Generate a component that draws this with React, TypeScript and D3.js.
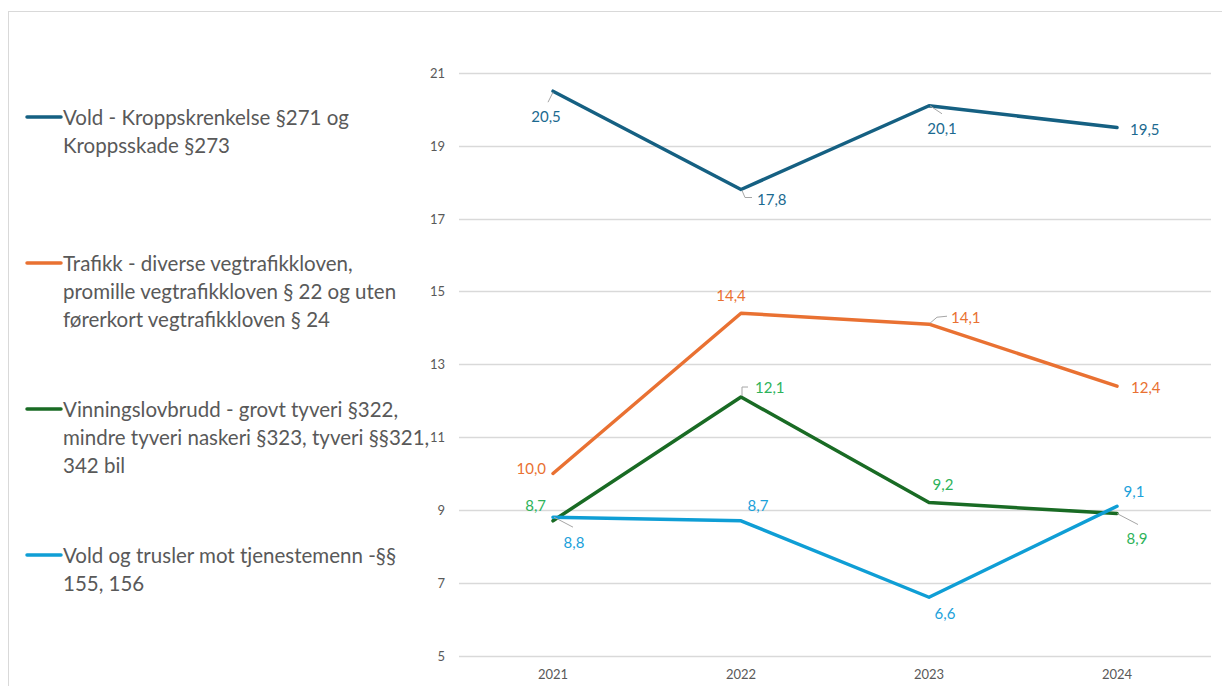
import React from "react";
import * as d3 from "d3";

// categories and values
const years = ["2021", "2022", "2023", "2024"];
const yTicks = [5, 7, 9, 11, 13, 15, 17, 19, 21];

const voldValues = [20.5, 17.8, 20.1, 19.5];
const trafikkValues = [10.0, 14.4, 14.1, 12.4];
const vinningValues = [8.7, 12.1, 9.2, 8.9];
const tjenesteValues = [8.8, 8.7, 6.6, 9.1];

const voldName = ["Vold - Kroppskrenkelse §271 og", "Kroppsskade §273"];
const trafikkName = [
  "Trafikk - diverse vegtrafikkloven,",
  "promille vegtrafikkloven § 22 og uten",
  "førerkort vegtrafikkloven § 24",
];
const vinningName = [
  "Vinningslovbrudd - grovt tyveri §322,",
  "mindre tyveri naskeri §323, tyveri §§321,",
  "342 bil",
];
const tjenesteName = ["Vold og trusler mot tjenestemenn -§§", "155, 156"];

// label placement, per point: [dx, dy, anchor, leader]
type Lab = [number, number, string, number[][] | null];

const series = [
  {
    name: voldName,
    values: voldValues,
    color: "#156082",
    labelColor: "#1B6A90",
    legendY: 117,
    labels: [
      [-7, 25, "middle", [[0, 1], [-5, 11]]],
      [16, 9, "start", [[1, 1], [4, 8], [11, 8]]],
      [13, 22, "middle", [[1, 0], [13, 8]]],
      [13, 1, "start", null],
    ] as Lab[],
  },
  {
    name: trafikkName,
    values: trafikkValues,
    color: "#E97132",
    labelColor: "#E97132",
    legendY: 263,
    labels: [
      [-7, -5, "end", null],
      [-10, -18, "middle", null],
      [22, -7, "start", [[1, -1], [8, -7], [18, -8]]],
      [14, 1, "start", null],
    ] as Lab[],
  },
  {
    name: vinningName,
    values: vinningValues,
    color: "#196B24",
    labelColor: "#2EB35A",
    legendY: 409,
    labels: [
      [-7, -16, "end", null],
      [14, -10, "start", [[1, -1], [1, -10], [7, -10]]],
      [14, -19, "middle", null],
      [20, 24, "middle", [[0, 0], [21, 11]]],
    ] as Lab[],
  },
  {
    name: tjenesteName,
    values: tjenesteValues,
    color: "#0F9ED5",
    labelColor: "#1BA1DA",
    legendY: 555,
    labels: [
      [21, 25, "middle", [[1, 0], [20, 10]]],
      [17, -16, "middle", null],
      [16, 16, "middle", null],
      [17, -15, "middle", null],
    ] as Lab[],
  },
];

const W = 1222;
const H = 686;

const fmt = (v: number) => d3.format(".1f")(v).replace(".", ",");

export default function App() {
  const x = d3.scalePoint<string>().domain(years).range([459, 1211]).padding(0.5);
  const y = d3.scaleLinear().domain([5, 21]).range([655.5, 73]);
  const line = d3
    .line<number>()
    .x((_, i) => x(years[i]) as number)
    .y((d) => y(d));

  const font = "Lato, 'Noto Sans', sans-serif";

  return (
    <svg
      width={W}
      height={H}
      style={{ position: "absolute", left: 0, top: 0, background: "#fff" }}
      fontFamily={font}
    >
      <rect x={8.5} y={11.5} width={1300} height={800} fill="#fff" stroke="#D9D9D9" />

      {/* gridlines + y labels */}
      {yTicks.map((t) => (
        <g key={t}>
          <line x1={459} x2={1211} y1={Math.round(y(t)) + 0.5} y2={Math.round(y(t)) + 0.5} stroke="#D9D9D9" strokeWidth={1.3} />
          <text x={445} y={y(t)} textAnchor="end" dominantBaseline="central" fontSize={13} fill="#595959">
            {t}
          </text>
        </g>
      ))}

      {/* x labels */}
      {years.map((yr) => (
        <text key={yr} x={x(yr)} y={674} textAnchor="middle" dominantBaseline="central" fontSize={13} fill="#595959">
          {yr}
        </text>
      ))}

      {/* lines */}
      {series.map((s, si) => (
        <path key={si} d={line(s.values) || ""} fill="none" stroke={s.color} strokeWidth={3.5} strokeLinejoin="round" strokeLinecap="round" />
      ))}

      {/* data labels */}
      {series.map((s, si) =>
        s.values.map((v, i) => {
          const px = x(years[i]) as number;
          const py = y(v);
          const [dx, dy, anchor, leader] = s.labels[i];
          return (
            <g key={`${si}-${i}`}>
              {leader && (
                <polyline
                  points={leader.map((p) => `${px + p[0]},${py + p[1]}`).join(" ")}
                  fill="none"
                  stroke="#A6A6A6"
                  strokeWidth={1}
                />
              )}
              <text
                x={px + dx}
                y={py + dy}
                textAnchor={anchor as any}
                dominantBaseline="central"
                fontSize={15}
                fill={s.labelColor}
              >
                {fmt(v)}
              </text>
            </g>
          );
        })
      )}

      {/* legend */}
      {series.map((s, si) => (
        <g key={`lg${si}`}>
          <line x1={27} x2={61} y1={s.legendY} y2={s.legendY} stroke={s.color} strokeWidth={3.5} strokeLinecap="round" />
          {s.name.map((ln, li) => (
            <text key={li} x={63} y={s.legendY + li * 28} dominantBaseline="central" fontSize={20.5} fill="#595959">
              {ln}
            </text>
          ))}
        </g>
      ))}
    </svg>
  );
}
